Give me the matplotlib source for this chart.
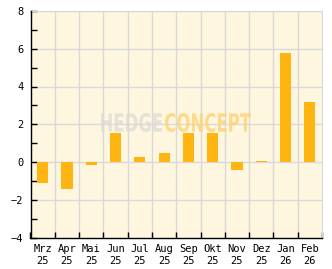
import matplotlib
matplotlib.use("Agg")
import matplotlib.pyplot as plt
from matplotlib.ticker import MultipleLocator
from matplotlib.textpath import TextPath
from matplotlib.patches import PathPatch
from matplotlib.font_manager import FontProperties
from matplotlib.transforms import Affine2D, IdentityTransform
import numpy as np

months = ["Mrz", "Apr", "Mai", "Jun", "Jul", "Aug", "Sep", "Okt", "Nov", "Dez", "Jan", "Feb"]
years = ["25", "25", "25", "25", "25", "25", "25", "25", "25", "25", "26", "26"]
values = [-1.10, -1.42, -0.18, 1.55, 0.26, 0.47, 1.55, 1.55, -0.41, 0.03, 5.77, 3.18]

W, H = 332, 269
fig = plt.figure(figsize=(W / 100, H / 100), dpi=100)
ax = fig.add_axes([30.5 / W, 1 - 237.5 / H, 291.5 / W, 226.5 / H])
ax.set_facecolor("#FEF6DF")

x = np.arange(len(months))
ax.bar(x, values, width=0.46, color="#FFB511", zorder=3)

ax.set_xlim(-0.5, len(months) - 0.5)
ax.set_ylim(-4, 8)
ax.yaxis.set_major_locator(MultipleLocator(2))
ax.yaxis.set_minor_locator(MultipleLocator(1))
ax.set_xticks(x)
ax.set_xticklabels([f"{m}\n{y}" for m, y in zip(months, years)],
                   fontfamily="DejaVu Sans Mono", fontsize=7.5, linespacing=1.15)
ax.set_xticks(np.arange(-0.5, len(months), 1), minor=True)
ax.tick_params(axis="x", which="major", length=0, pad=5)
ax.tick_params(axis="x", which="minor", direction="in", length=4, width=1, color="black")
ax.tick_params(axis="y", which="both", direction="in", length=4, width=1, color="black",
               labelsize=7.5, pad=5)
for lab in ax.get_yticklabels():
    lab.set_fontfamily("DejaVu Sans Mono")

for xv in np.arange(0.5, len(months) - 0.5, 1):
    ax.axvline(xv, color="#D9D9D9", lw=1, zorder=1)
for yv in range(-2, 9, 2):
    ax.axhline(yv, color="#D9D9D9", lw=1, zorder=1)

for s in ["left", "bottom"]:
    ax.spines[s].set_color("black")
    ax.spines[s].set_linewidth(1)
    ax.spines[s].set_zorder(5)
for s in ["top", "right"]:
    ax.spines[s].set_color("#D9D9D9")


def word(text, box, color):
    fp = FontProperties(family="DejaVu Sans", weight="bold")
    tp = TextPath((0, 0), text, size=10, prop=fp)
    ext = tp.get_extents()
    x0, y0, x1, y1 = box  # pixel coordinates, y measured from top
    sx = (x1 - x0) / ext.width
    sy = (y1 - y0) / ext.height
    tr = (Affine2D().translate(-ext.x0, -ext.y0).scale(sx, sy)
          .translate(x0, H - y1))
    p = PathPatch(tr.transform_path(tp), facecolor=color, edgecolor="none",
                  alpha=0.75, transform=IdentityTransform(), zorder=4)
    fig.patches.append(p)


word("HEDGE", (101, 113, 162, 132), "#DCDAD4")
word("CONCEPT", (165, 113, 251, 132), "#FFD070")

fig.savefig("out.png", dpi=100)
